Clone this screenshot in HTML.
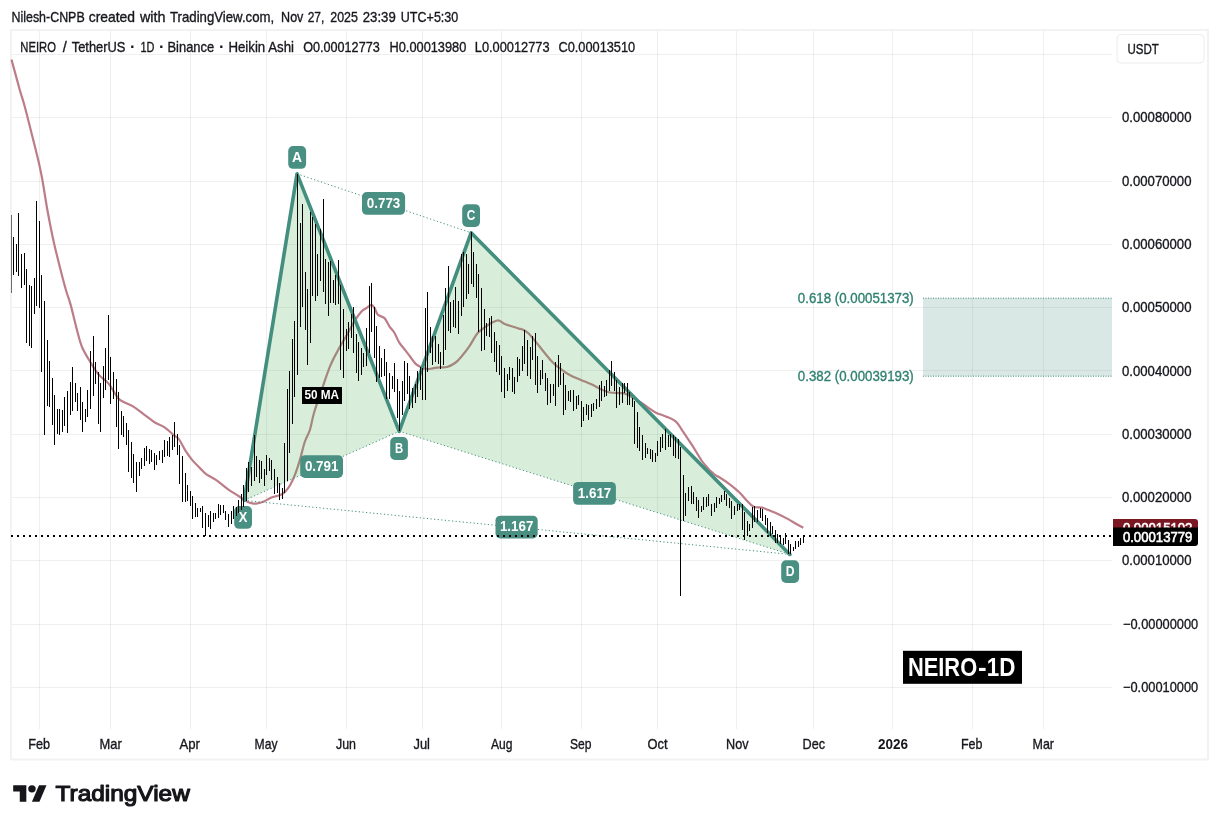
<!DOCTYPE html>
<html><head><meta charset="utf-8"><title>NEIRO chart</title>
<style>html,body{margin:0;padding:0;background:#fff;overflow:hidden}svg{display:block}</style></head>
<body>
<svg width="1219" height="828" viewBox="0 0 1219 828" font-family='"Liberation Sans", Arial, sans-serif'>
<rect width="1219" height="828" fill="#fff"/>
<text x="11.5" y="21.8" font-size="14.5" font-weight="normal" fill="#17181d" stroke="#17181d" stroke-width="0.35" text-anchor="start" textLength="73.2" lengthAdjust="spacingAndGlyphs">Nilesh-CNPB</text>
<text x="88.7" y="21.8" font-size="14.5" font-weight="normal" fill="#17181d" stroke="#17181d" stroke-width="0.35" text-anchor="start" textLength="46.3" lengthAdjust="spacingAndGlyphs">created</text>
<text x="139.9" y="21.8" font-size="14.5" font-weight="normal" fill="#17181d" stroke="#17181d" stroke-width="0.35" text-anchor="start" textLength="25.6" lengthAdjust="spacingAndGlyphs">with</text>
<text x="170.0" y="21.8" font-size="14.5" font-weight="normal" fill="#17181d" stroke="#17181d" stroke-width="0.35" text-anchor="start" textLength="104.2" lengthAdjust="spacingAndGlyphs">TradingView.com,</text>
<text x="281.1" y="21.8" font-size="14.5" font-weight="normal" fill="#17181d" stroke="#17181d" stroke-width="0.35" text-anchor="start" textLength="22.3" lengthAdjust="spacingAndGlyphs">Nov</text>
<text x="307.7" y="21.8" font-size="14.5" font-weight="normal" fill="#17181d" stroke="#17181d" stroke-width="0.35" text-anchor="start" textLength="16.7" lengthAdjust="spacingAndGlyphs">27,</text>
<text x="330.3" y="21.8" font-size="14.5" font-weight="normal" fill="#17181d" stroke="#17181d" stroke-width="0.35" text-anchor="start" textLength="27.6" lengthAdjust="spacingAndGlyphs">2025</text>
<text x="362.8" y="21.8" font-size="14.5" font-weight="normal" fill="#17181d" stroke="#17181d" stroke-width="0.35" text-anchor="start" textLength="32.9" lengthAdjust="spacingAndGlyphs">23:39</text>
<text x="400.8" y="21.8" font-size="14.5" font-weight="normal" fill="#17181d" stroke="#17181d" stroke-width="0.35" text-anchor="start" textLength="57.5" lengthAdjust="spacingAndGlyphs">UTC+5:30</text>
<rect x="11" y="30" width="1197" height="729.5" fill="none" stroke="#f2f2f3" stroke-width="2"/>
<path d="M39.5 31V729 M110.5 31V729 M190.5 31V729 M266.5 31V729 M346.5 31V729 M422.5 31V729 M501.5 31V729 M581.5 31V729 M657.5 31V729 M736.5 31V729 M813.5 31V729 M892.5 31V729 M972.5 31V729 M1043.5 31V729" stroke="#000" stroke-opacity="0.062" stroke-width="1" fill="none" shape-rendering="crispEdges"/>
<path d="M12 54.5H1112 M12 117.5H1112 M12 181.5H1112 M12 244.5H1112 M12 307.5H1112 M12 370.5H1112 M12 434.5H1112 M12 497.5H1112 M12 560.5H1112 M12 624.5H1112 M12 687.5H1112" stroke="#000" stroke-opacity="0.062" stroke-width="1" fill="none" shape-rendering="crispEdges"/>
<path d="M11.5 59.6 C12.9 64.7 17.6 82.0 19.8 90.0 C22.1 98.0 22.8 99.3 25.0 107.5 C27.2 115.7 30.7 129.8 33.0 139.0 C35.3 148.2 37.2 155.7 38.8 162.5 C40.3 169.3 40.9 171.9 42.4 180.0 C43.9 188.1 45.6 200.5 47.6 211.2 C49.6 221.9 51.7 233.0 54.2 244.0 C56.7 255.0 60.4 269.0 62.4 277.0 C64.5 285.0 65.1 287.4 66.5 292.0 C67.9 296.6 68.8 298.1 70.6 304.6 C72.4 311.1 75.3 323.8 77.2 330.9 C79.1 338.0 79.9 342.1 82.1 347.3 C84.3 352.5 87.6 357.6 90.3 362.1 C93.0 366.6 95.5 370.8 98.5 374.4 C101.5 377.9 105.7 380.2 108.4 383.4 C111.1 386.5 113.0 390.6 114.9 393.3 C116.8 396.1 116.9 397.7 119.9 399.9 C122.9 402.1 128.9 403.9 133.0 406.4 C137.1 408.9 140.9 412.2 144.5 414.8 C148.1 417.4 151.1 420.1 154.4 422.2 C157.7 424.2 160.9 424.9 164.2 427.1 C167.5 429.3 171.5 433.2 174.0 435.3 C176.5 437.4 177.1 436.8 179.0 439.4 C180.9 442.0 183.4 447.5 185.6 450.9 C187.8 454.3 189.7 457.0 192.1 459.9 C194.5 462.8 197.6 465.7 200.0 468.1 C202.4 470.5 203.7 472.3 206.4 474.3 C209.1 476.3 212.7 477.6 216.3 480.1 C219.9 482.6 224.0 486.4 227.8 489.1 C231.6 491.8 236.2 494.4 239.3 496.5 C242.5 498.6 244.5 500.2 246.7 501.4 C248.9 502.5 250.6 503.1 252.4 503.4 C254.2 503.7 255.4 503.7 257.3 503.4 C259.2 503.1 261.4 502.4 263.9 501.4 C266.4 500.4 269.4 498.4 272.1 497.3 C274.8 496.2 278.1 495.8 280.3 494.9 C282.5 493.9 283.6 493.2 285.2 491.6 C286.8 490.0 288.5 487.9 290.2 485.0 C291.9 482.1 293.5 478.5 295.1 474.3 C296.7 470.1 298.4 465.1 300.0 459.6 C301.6 454.1 303.2 446.4 304.9 441.5 C306.5 436.6 308.4 434.7 309.9 430.0 C311.4 425.3 311.9 420.2 313.9 413.3 C315.9 406.4 319.4 396.6 322.1 388.7 C324.8 380.8 327.6 372.3 330.3 365.7 C333.0 359.1 335.8 354.4 338.5 349.3 C341.2 344.2 344.0 340.1 346.7 335.3 C349.4 330.5 352.4 324.5 354.9 320.5 C357.4 316.5 359.6 313.6 361.5 311.5 C363.4 309.4 364.8 309.3 366.4 308.2 C368.0 307.1 370.0 304.9 371.4 304.9 C372.8 304.9 373.5 306.5 374.6 308.2 C375.7 309.9 376.2 313.1 377.9 314.8 C379.5 316.5 382.6 316.2 384.5 318.1 C386.4 320.0 387.8 323.9 389.4 326.3 C391.0 328.8 392.8 330.1 394.4 332.8 C396.0 335.5 397.4 339.7 399.3 342.7 C401.2 345.7 403.9 348.4 405.8 350.9 C407.7 353.4 409.2 355.3 410.8 357.5 C412.4 359.7 414.1 362.3 415.7 363.9 C417.3 365.5 418.7 366.1 420.6 367.0 C422.5 367.9 425.0 368.8 427.2 369.0 C429.4 369.2 431.7 368.4 433.8 368.1 C435.9 367.8 437.8 367.5 440.0 367.3 C442.2 367.1 444.5 367.7 447.0 367.0 C449.5 366.3 452.5 364.8 455.0 363.0 C457.5 361.2 459.5 358.8 461.9 356.0 C464.3 353.2 466.7 350.2 469.3 346.4 C471.9 342.6 474.8 336.6 477.5 333.3 C480.2 330.0 483.2 328.5 485.7 326.7 C488.1 324.9 490.0 323.6 492.2 322.6 C494.4 321.6 496.6 320.2 498.8 320.5 C501.0 320.8 502.1 323.0 505.4 324.3 C508.7 325.6 514.7 326.9 518.5 328.4 C522.3 329.9 522.9 327.9 528.4 333.3 C533.9 338.7 545.9 355.0 551.4 361.0 C556.9 367.0 557.9 366.8 561.2 369.3 C564.5 371.8 567.8 374.0 571.1 375.8 C574.4 377.6 577.6 378.5 580.9 379.9 C584.2 381.3 587.5 382.5 590.8 384.0 C594.1 385.5 597.6 387.6 600.6 389.0 C603.6 390.4 605.6 391.5 608.8 392.2 C612.0 392.9 617.1 392.8 620.0 393.1 C622.9 393.4 623.1 392.8 626.4 394.2 C629.7 395.6 636.0 399.4 639.6 401.6 C643.2 403.8 645.1 405.5 647.8 407.3 C650.5 409.1 653.0 411.2 656.0 412.7 C659.0 414.2 662.5 415.0 665.8 416.4 C669.1 417.8 673.0 419.0 675.7 421.3 C678.4 423.6 679.5 426.3 682.2 430.3 C684.9 434.3 688.9 440.2 692.1 445.1 C695.3 450.1 698.5 456.0 701.2 460.0 C703.9 464.0 706.9 467.0 708.5 468.9 C710.1 470.8 709.7 470.3 711.1 471.5 C712.5 472.7 715.3 475.1 716.7 476.0 C718.1 476.9 717.2 475.9 719.3 477.2 C721.4 478.5 725.8 481.3 729.1 483.8 C732.4 486.3 736.0 489.1 739.0 492.0 C742.0 494.9 744.8 498.6 747.2 501.1 C749.7 503.6 751.2 505.7 753.7 506.8 C756.2 507.9 759.5 507.1 762.0 507.6 C764.5 508.2 765.8 509.0 768.5 510.1 C771.2 511.2 775.1 512.7 778.4 514.2 C781.7 515.7 785.2 517.5 788.2 519.1 C791.2 520.7 793.9 522.6 796.4 524.0 C798.9 525.4 802.1 527.1 803.3 527.7" stroke="#bc7d88" stroke-width="2.2" fill="none" stroke-linejoin="round" stroke-linecap="butt"/>
<path d="M244.2 500.4 L297.05 173.8 L399.2 431.3 Z M399.2 431.3 L471.1 232.8 L789.9 554.4 Z" fill="rgba(76,175,80,0.21)"/>
<rect x="923" y="298" width="189" height="78.3" fill="#438e7e" fill-opacity="0.2"/>
<path d="M923 298.2H1112 M923 376.2H1112" stroke="#438e7e" stroke-width="1" stroke-dasharray="1 1.5" fill="none"/>
<path d="M244.2 500.4 L399.2 431.3 M297.05 173.8 L471.1 232.8 M399.2 431.3 L789.9 554.4 M244.2 500.4 L789.9 554.4" stroke="#438e7e" stroke-width="1" stroke-dasharray="1.2 2.4" fill="none"/>
<path d="M244.2 500.4 L297.05 173.8 L399.2 431.3 L471.1 232.8 L789.9 554.4" stroke="#438e7e" stroke-width="3.6" fill="none" stroke-linejoin="round" stroke-linecap="round"/>
<rect x="234.2" y="506" width="17.8" height="22.8" rx="4.8" fill="#458e7f" fill-opacity="0.98"/>
<text x="238.8" y="521.8" font-size="14.5" font-weight="bold" fill="#fff" text-anchor="start" textLength="8.6" lengthAdjust="spacingAndGlyphs">X</text>
<rect x="288.2" y="146.1" width="17.9" height="22.7" rx="4.8" fill="#458e7f" fill-opacity="0.98"/>
<text x="292.1" y="161.8" font-size="14.5" font-weight="bold" fill="#fff" text-anchor="start" textLength="10.0" lengthAdjust="spacingAndGlyphs">A</text>
<rect x="390.2" y="437.1" width="17.7" height="22.9" rx="4.8" fill="#458e7f" fill-opacity="0.98"/>
<text x="394.9" y="452.9" font-size="14.5" font-weight="bold" fill="#fff" text-anchor="start" textLength="8.2" lengthAdjust="spacingAndGlyphs">B</text>
<rect x="462.2" y="204.2" width="17.8" height="22.7" rx="4.8" fill="#458e7f" fill-opacity="0.98"/>
<text x="466.8" y="220.0" font-size="14.5" font-weight="bold" fill="#fff" text-anchor="start" textLength="8.6" lengthAdjust="spacingAndGlyphs">C</text>
<rect x="781.2" y="560.3" width="17.9" height="22.7" rx="4.8" fill="#458e7f" fill-opacity="0.98"/>
<text x="785.8" y="576.0" font-size="14.5" font-weight="bold" fill="#fff" text-anchor="start" textLength="8.8" lengthAdjust="spacingAndGlyphs">D</text>
<rect x="362" y="192" width="43.1" height="22.8" rx="4.8" fill="#458e7f" fill-opacity="0.98"/>
<text x="366.8" y="207.8" font-size="14.5" font-weight="bold" fill="#fff" text-anchor="start" textLength="33.5" lengthAdjust="spacingAndGlyphs">0.773</text>
<rect x="300.2" y="455.2" width="42.8" height="22.7" rx="4.8" fill="#458e7f" fill-opacity="0.98"/>
<text x="304.9" y="470.9" font-size="14.5" font-weight="bold" fill="#fff" text-anchor="start" textLength="33.5" lengthAdjust="spacingAndGlyphs">0.791</text>
<rect x="573.1" y="481.9" width="42.8" height="22.9" rx="4.8" fill="#458e7f" fill-opacity="0.98"/>
<text x="577.8" y="497.8" font-size="14.5" font-weight="bold" fill="#fff" text-anchor="start" textLength="33.5" lengthAdjust="spacingAndGlyphs">1.617</text>
<rect x="495.5" y="515.7" width="42.2" height="22.7" rx="4.8" fill="#458e7f" fill-opacity="0.98"/>
<text x="499.9" y="531.4" font-size="14.5" font-weight="bold" fill="#fff" text-anchor="start" textLength="33.5" lengthAdjust="spacingAndGlyphs">1.167</text>
<path d="M11.5 215.0V292.8" stroke="#000" stroke-opacity="0.55" stroke-width="1" fill="none" shape-rendering="crispEdges"/>
<path d="M13.5 237.0V274.7 M16.5 244.0V271.6 M18.5 212.8V275.7 M21.5 254.2V287.9 M24.5 253.1V284.6 M26.5 269.0V342.7 M29.5 285.1V345.7 M31.5 286.2V347.7 M34.5 278.0V313.8 M36.5 201.0V305.6 M39.5 221.1V307.6 M41.5 274.9V371.6 M44.5 301.0V434.8 M47.5 340.3V405.7 M49.5 361.0V407.4 M52.5 378.2V425.0 M54.5 394.9V444.7 M57.5 409.2V434.0 M59.5 409.2V434.8 M62.5 410.2V431.7 M64.5 397.1V425.8 M67.5 391.2V432.8 M70.5 382.1V414.8 M72.5 367.2V410.9 M75.5 383.1V401.6 M77.5 393.3V410.9 M80.5 387.1V419.7 M82.5 402.0V431.7 M85.5 409.2V421.8 M87.5 390.0V416.7 M90.5 351.1V408.9 M93.5 336.2V395.8 M95.5 362.1V384.3 M98.5 371.5V423.8 M100.5 383.1V431.7 M103.5 366.0V397.7 M105.5 348.0V389.5 M108.5 315.0V379.7 M110.5 357.2V403.6 M113.5 372.1V398.6 M116.5 379.0V426.6 M118.5 392.2V448.8 M121.5 411.0V435.0 M123.5 415.9V436.9 M126.5 423.3V444.7 M128.5 430.0V471.8 M131.5 442.2V477.7 M133.5 454.2V482.6 M136.5 462.1V491.6 M139.5 462.1V475.9 M141.5 458.0V468.6 M144.5 447.9V465.7 M146.5 446.3V461.2 M149.5 448.9V463.7 M151.5 450.1V461.9 M154.5 453.0V469.8 M156.5 455.3V464.9 M159.5 451.4V459.6 M162.5 450.1V462.7 M164.5 439.9V456.7 M167.5 441.1V455.8 M169.5 437.3V457.0 M172.5 435.3V449.6 M174.5 422.2V446.8 M177.5 434.2V454.7 M179.5 445.2V483.7 M182.5 456.2V501.8 M185.5 473.1V501.5 M187.5 485.1V500.5 M190.5 491.0V505.6 M192.5 496.1V518.7 M195.5 503.1V516.9 M197.5 508.0V516.6 M200.5 508.0V511.8 M202.5 505.9V528.0 M205.5 513.3V535.9 M208.5 514.6V526.9 M210.5 510.8V528.5 M213.5 512.9V521.6 M215.5 513.4V518.7 M218.5 504.2V517.8 M220.5 505.0V514.9 M223.5 505.0V513.4 M225.5 510.5V519.8 M228.5 514.2V526.6 M231.5 511.3V523.6 M233.5 505.9V518.7 M236.5 507.2V516.2 M238.5 500.1V512.9 M241.5 494.0V510.0 M243.5 485.0V507.2 M246.5 468.1V500.6 M248.5 462.0V492.4 M251.5 466.9V485.8 M254.5 434.9V480.6 M256.5 455.8V476.5 M259.5 460.4V482.5 M261.5 461.2V479.3 M264.5 469.4V486.3 M266.5 455.0V475.2 M269.5 457.9V471.1 M271.5 460.4V480.4 M274.5 468.9V493.7 M277.5 477.1V493.2 M279.5 482.9V499.8 M282.5 487.8V499.0 M284.5 443.1V492.9 M287.5 389.2V480.9 M289.5 370.9V452.7 M292.5 339.1V424.0 M294.5 321.0V396.9 M297.5 174.1V375.0 M300.5 222.9V326.8 M302.5 204.2V306.6 M305.5 271.8V330.0 M307.5 289.0V364.9 M310.5 211.9V342.7 M312.5 216.8V296.4 M315.5 224.2V300.8 M317.5 254.1V295.6 M320.5 229.1V280.8 M323.5 199.2V292.3 M325.5 259.2V303.8 M328.5 262.0V315.9 M330.5 261.1V303.0 M333.5 280.0V302.7 M335.5 275.1V304.6 M338.5 260.0V303.8 M340.5 284.9V369.8 M343.5 309.0V377.7 M346.5 329.2V350.9 M348.5 322.2V349.3 M351.5 314.0V337.8 M353.5 306.9V352.9 M356.5 334.0V372.7 M358.5 341.9V381.0 M361.5 347.6V374.7 M363.5 352.5V366.5 M366.5 327.9V365.7 M369.5 286.1V352.5 M371.5 283.0V332.3 M374.5 307.4V358.3 M376.5 325.8V382.1 M379.5 346.3V377.5 M381.5 357.8V377.2 M384.5 348.8V376.4 M386.5 361.6V399.0 M389.5 373.1V399.3 M392.5 375.5V388.7 M394.5 362.9V392.0 M397.5 378.8V418.2 M399.5 391.1V431.4 M402.5 380.5V414.9 M404.5 361.1V401.0 M407.5 363.2V393.6 M409.5 375.5V409.2 M412.5 388.2V407.6 M415.5 383.7V402.6 M417.5 370.9V396.9 M420.5 366.5V389.8 M422.5 368.1V400.0 M425.5 307.8V400.0 M427.5 291.9V371.8 M430.5 327.4V352.5 M432.5 335.9V364.7 M435.5 335.8V361.6 M438.5 344.0V364.0 M440.5 351.9V368.8 M443.5 314.9V364.7 M445.5 287.8V349.9 M448.5 266.0V330.8 M450.5 302.1V332.8 M453.5 300.1V326.7 M455.5 287.0V328.4 M458.5 301.0V333.6 M461.5 254.2V315.7 M463.5 252.0V306.7 M466.5 254.2V298.8 M468.5 263.6V294.0 M471.5 232.3V283.7 M473.5 252.0V287.3 M476.5 264.0V297.5 M478.5 274.2V331.8 M481.5 288.1V350.9 M484.5 309.2V349.9 M486.5 323.0V335.9 M489.5 318.2V336.6 M491.5 315.7V352.8 M494.5 332.0V361.5 M496.5 340.9V371.7 M499.5 345.1V374.5 M501.5 356.1V391.8 M504.5 368.1V397.7 M507.5 374.2V390.6 M509.5 366.8V379.9 M512.5 367.9V392.2 M514.5 377.1V393.6 M517.5 356.9V381.6 M519.5 359.1V375.8 M522.5 345.9V370.6 M524.5 330.0V364.3 M527.5 339.9V375.5 M530.5 347.1V378.6 M532.5 335.9V360.2 M535.5 333.0V384.5 M537.5 356.1V392.6 M540.5 370.1V385.4 M542.5 359.9V378.6 M545.5 372.9V390.6 M547.5 377.8V404.9 M550.5 384.0V402.6 M553.5 384.0V395.9 M555.5 362.2V405.7 M558.5 355.0V386.8 M560.5 363.0V384.5 M563.5 373.0V414.7 M565.5 385.2V410.3 M568.5 390.6V400.8 M570.5 390.1V401.6 M573.5 390.1V410.6 M576.5 396.4V408.7 M578.5 395.2V405.1 M581.5 400.8V426.7 M583.5 407.0V421.3 M586.5 404.1V414.7 M588.5 404.9V419.8 M591.5 403.7V416.9 M593.5 403.3V410.8 M596.5 399.3V408.7 M599.5 385.2V406.7 M601.5 381.1V400.8 M604.5 385.7V396.8 M606.5 380.3V395.9 M609.5 370.1V391.4 M611.5 361.0V386.0 M614.5 372.0V390.6 M616.5 379.9V407.7 M619.5 387.0V404.9 M622.5 383.0V403.2 M624.5 383.0V393.4 M627.5 383.0V404.5 M629.5 392.2V404.5 M632.5 397.5V406.8 M634.5 401.2V443.9 M637.5 411.8V447.9 M639.5 427.0V450.8 M642.5 434.7V459.9 M645.5 443.0V457.9 M647.5 447.9V453.8 M650.5 448.9V458.6 M652.5 449.7V461.8 M655.5 453.0V461.5 M657.5 441.0V455.8 M660.5 436.9V451.7 M662.5 433.9V447.6 M665.5 429.2V450.0 M668.5 435.2V446.7 M670.5 433.9V447.1 M673.5 435.2V455.8 M675.5 436.9V457.7 M678.5 439.3V458.7 M680.5 446.7V595.9 M683.5 475.0V520.8 M685.5 493.3V516.3 M688.5 487.1V500.6 M691.5 485.9V504.3 M693.5 492.0V503.5 M696.5 496.5V510.9 M698.5 500.2V517.8 M701.5 506.0V512.2 M703.5 496.5V510.1 M706.5 497.4V507.1 M708.5 494.2V506.3 M711.5 503.5V515.5 M714.5 503.0V511.7 M716.5 497.4V507.6 M719.5 498.1V504.3 M721.5 494.5V502.4 M724.5 490.9V500.2 M726.5 493.7V505.6 M729.5 498.1V508.4 M731.5 501.4V519.4 M734.5 506.0V514.7 M737.5 503.5V510.6 M739.5 504.3V510.1 M742.5 504.0V529.8 M744.5 512.2V539.6 M747.5 521.1V535.5 M749.5 523.7V531.4 M752.5 507.1V528.1 M754.5 506.3V522.4 M757.5 510.1V521.6 M760.5 507.9V517.8 M762.5 508.8V521.2 M765.5 515.0V524.5 M767.5 518.3V532.7 M770.5 522.1V535.9 M772.5 525.7V534.2 M775.5 529.5V542.6 M777.5 533.9V542.9 M780.5 535.5V543.7 M783.5 537.7V545.1 M785.5 533.1V543.7 M788.5 540.1V554.4 M790.5 544.2V553.6 M793.5 547.0V550.6 M795.5 541.0V548.7 M798.5 540.5V546.5 M800.5 538.0V544.6 M803.5 535.2V543.4" stroke="#000" stroke-width="1" fill="none" shape-rendering="crispEdges"/>
<path d="M11 536H1113" stroke="#000" stroke-width="2" stroke-dasharray="2 4" shape-rendering="crispEdges" fill="none"/>
<rect x="302" y="387" width="40" height="17" fill="#000"/>
<text x="304.4" y="399.0" font-size="12.5" font-weight="bold" fill="#fff" text-anchor="start" textLength="34.7" lengthAdjust="spacingAndGlyphs">50 MA</text>
<rect x="903" y="650.8" width="119" height="33" fill="#000"/>
<text x="907.9" y="676.0" font-size="26.7" font-weight="bold" fill="#fff" text-anchor="start" textLength="69.3" lengthAdjust="spacingAndGlyphs">NEIRO</text>
<text x="978.0" y="676.0" font-size="26.7" font-weight="bold" fill="#fff" text-anchor="start" textLength="8.6" lengthAdjust="spacingAndGlyphs">-</text>
<text x="986.8" y="676.0" font-size="26.7" font-weight="bold" fill="#fff" text-anchor="start" textLength="28.6" lengthAdjust="spacingAndGlyphs">1D</text>
<text x="797.8" y="302.8" font-size="14.5" font-weight="normal" fill="#2f8170" stroke="#2f8170" stroke-width="0.35" text-anchor="start" textLength="116.0" lengthAdjust="spacingAndGlyphs">0.618 (0.00051373)</text>
<text x="797.8" y="380.9" font-size="14.5" font-weight="normal" fill="#2f8170" stroke="#2f8170" stroke-width="0.35" text-anchor="start" textLength="116.0" lengthAdjust="spacingAndGlyphs">0.382 (0.00039193)</text>
<text x="20.3" y="51.6" font-size="14.5" font-weight="normal" fill="#17181d" stroke="#17181d" stroke-width="0.35" text-anchor="start" textLength="35.6" lengthAdjust="spacingAndGlyphs">NEIRO</text>
<text x="62.7" y="51.6" font-size="14.5" font-weight="normal" fill="#17181d" stroke="#17181d" stroke-width="0.35" text-anchor="start">/</text>
<text x="71.7" y="51.6" font-size="14.5" font-weight="normal" fill="#17181d" stroke="#17181d" stroke-width="0.35" text-anchor="start" textLength="53.8" lengthAdjust="spacingAndGlyphs">TetherUS</text>
<text x="130.1" y="52.2" font-size="16.5" font-weight="bold" fill="#17181d" text-anchor="start">·</text>
<text x="140.4" y="51.6" font-size="14.5" font-weight="normal" fill="#17181d" stroke="#17181d" stroke-width="0.35" text-anchor="start" textLength="14.0" lengthAdjust="spacingAndGlyphs">1D</text>
<text x="159.1" y="52.2" font-size="16.5" font-weight="bold" fill="#17181d" text-anchor="start">·</text>
<text x="167.5" y="51.6" font-size="14.5" font-weight="normal" fill="#17181d" stroke="#17181d" stroke-width="0.35" text-anchor="start" textLength="46.7" lengthAdjust="spacingAndGlyphs">Binance</text>
<text x="218.9" y="52.2" font-size="16.5" font-weight="bold" fill="#17181d" text-anchor="start">·</text>
<text x="228.4" y="51.6" font-size="14.5" font-weight="normal" fill="#17181d" stroke="#17181d" stroke-width="0.35" text-anchor="start" textLength="65.6" lengthAdjust="spacingAndGlyphs">Heikin Ashi</text>
<text x="303.2" y="51.6" font-size="14.5" font-weight="normal" fill="#17181d" stroke="#17181d" stroke-width="0.35" text-anchor="start" textLength="76.5" lengthAdjust="spacingAndGlyphs">O0.00012773</text>
<text x="389.5" y="51.6" font-size="14.5" font-weight="normal" fill="#17181d" stroke="#17181d" stroke-width="0.35" text-anchor="start" textLength="76.8" lengthAdjust="spacingAndGlyphs">H0.00013980</text>
<text x="474.8" y="51.6" font-size="14.5" font-weight="normal" fill="#17181d" stroke="#17181d" stroke-width="0.35" text-anchor="start" textLength="74.8" lengthAdjust="spacingAndGlyphs">L0.00012773</text>
<text x="558.4" y="51.6" font-size="14.5" font-weight="normal" fill="#17181d" stroke="#17181d" stroke-width="0.35" text-anchor="start" textLength="76.8" lengthAdjust="spacingAndGlyphs">C0.00013510</text>
<rect x="1117" y="34.5" width="87" height="28.5" rx="4" fill="#fff" stroke="#ececef" stroke-width="1"/>
<text x="1127.5" y="53.9" font-size="14.5" font-weight="normal" fill="#17181d" stroke="#17181d" stroke-width="0.35" text-anchor="start" textLength="31.4" lengthAdjust="spacingAndGlyphs">USDT</text>
<text x="1122.0" y="122.3" font-size="14.5" font-weight="normal" fill="#17181d" stroke="#17181d" stroke-width="0.35" text-anchor="start" textLength="69.5" lengthAdjust="spacingAndGlyphs">0.00080000</text>
<text x="1122.0" y="186.3" font-size="14.5" font-weight="normal" fill="#17181d" stroke="#17181d" stroke-width="0.35" text-anchor="start" textLength="69.5" lengthAdjust="spacingAndGlyphs">0.00070000</text>
<text x="1122.0" y="249.3" font-size="14.5" font-weight="normal" fill="#17181d" stroke="#17181d" stroke-width="0.35" text-anchor="start" textLength="69.5" lengthAdjust="spacingAndGlyphs">0.00060000</text>
<text x="1122.0" y="312.3" font-size="14.5" font-weight="normal" fill="#17181d" stroke="#17181d" stroke-width="0.35" text-anchor="start" textLength="69.5" lengthAdjust="spacingAndGlyphs">0.00050000</text>
<text x="1122.0" y="376.3" font-size="14.5" font-weight="normal" fill="#17181d" stroke="#17181d" stroke-width="0.35" text-anchor="start" textLength="69.5" lengthAdjust="spacingAndGlyphs">0.00040000</text>
<text x="1122.0" y="439.3" font-size="14.5" font-weight="normal" fill="#17181d" stroke="#17181d" stroke-width="0.35" text-anchor="start" textLength="69.5" lengthAdjust="spacingAndGlyphs">0.00030000</text>
<text x="1122.0" y="502.3" font-size="14.5" font-weight="normal" fill="#17181d" stroke="#17181d" stroke-width="0.35" text-anchor="start" textLength="69.5" lengthAdjust="spacingAndGlyphs">0.00020000</text>
<text x="1122.0" y="565.3" font-size="14.5" font-weight="normal" fill="#17181d" stroke="#17181d" stroke-width="0.35" text-anchor="start" textLength="69.5" lengthAdjust="spacingAndGlyphs">0.00010000</text>
<text x="1123.0" y="629.2" font-size="14.5" font-weight="normal" fill="#17181d" stroke="#17181d" stroke-width="0.35" text-anchor="start" textLength="75.2" lengthAdjust="spacingAndGlyphs">−0.00000000</text>
<text x="1123.0" y="692.2" font-size="14.5" font-weight="normal" fill="#17181d" stroke="#17181d" stroke-width="0.35" text-anchor="start" textLength="75.2" lengthAdjust="spacingAndGlyphs">−0.00010000</text>
<path d="M1113 519H1195a3 3 0 0 1 3 3V537H1113Z" fill="#7b1722"/>
<text x="1122.9" y="533.4" font-size="14.5" font-weight="normal" fill="#fff" text-anchor="start" textLength="69.5" lengthAdjust="spacingAndGlyphs" stroke="#fff" stroke-width="0.6">0.00015102</text>
<path d="M1113 527.4H1198V543a3 3 0 0 1 -3 3H1113Z" fill="#000"/>
<text x="1122.9" y="542.2" font-size="14.5" font-weight="normal" fill="#fff" text-anchor="start" textLength="69.5" lengthAdjust="spacingAndGlyphs" stroke="#fff" stroke-width="0.6">0.00013779</text>
<text x="28.2" y="749.4" font-size="14.5" font-weight="normal" fill="#17181d" stroke="#17181d" stroke-width="0.35" text-anchor="start" textLength="21.8" lengthAdjust="spacingAndGlyphs">Feb</text>
<text x="99.5" y="749.4" font-size="14.5" font-weight="normal" fill="#17181d" stroke="#17181d" stroke-width="0.35" text-anchor="start" textLength="22.2" lengthAdjust="spacingAndGlyphs">Mar</text>
<text x="179.5" y="749.4" font-size="14.5" font-weight="normal" fill="#17181d" stroke="#17181d" stroke-width="0.35" text-anchor="start" textLength="20.5" lengthAdjust="spacingAndGlyphs">Apr</text>
<text x="254.5" y="749.4" font-size="14.5" font-weight="normal" fill="#17181d" stroke="#17181d" stroke-width="0.35" text-anchor="start" textLength="23.0" lengthAdjust="spacingAndGlyphs">May</text>
<text x="336.0" y="749.4" font-size="14.5" font-weight="normal" fill="#17181d" stroke="#17181d" stroke-width="0.35" text-anchor="start" textLength="20.0" lengthAdjust="spacingAndGlyphs">Jun</text>
<text x="413.5" y="749.4" font-size="14.5" font-weight="normal" fill="#17181d" stroke="#17181d" stroke-width="0.35" text-anchor="start" textLength="16.5" lengthAdjust="spacingAndGlyphs">Jul</text>
<text x="491.0" y="749.4" font-size="14.5" font-weight="normal" fill="#17181d" stroke="#17181d" stroke-width="0.35" text-anchor="start" textLength="21.5" lengthAdjust="spacingAndGlyphs">Aug</text>
<text x="570.0" y="749.4" font-size="14.5" font-weight="normal" fill="#17181d" stroke="#17181d" stroke-width="0.35" text-anchor="start" textLength="21.5" lengthAdjust="spacingAndGlyphs">Sep</text>
<text x="647.5" y="749.4" font-size="14.5" font-weight="normal" fill="#17181d" stroke="#17181d" stroke-width="0.35" text-anchor="start" textLength="20.0" lengthAdjust="spacingAndGlyphs">Oct</text>
<text x="726.0" y="749.4" font-size="14.5" font-weight="normal" fill="#17181d" stroke="#17181d" stroke-width="0.35" text-anchor="start" textLength="22.5" lengthAdjust="spacingAndGlyphs">Nov</text>
<text x="802.5" y="749.4" font-size="14.5" font-weight="normal" fill="#17181d" stroke="#17181d" stroke-width="0.35" text-anchor="start" textLength="22.5" lengthAdjust="spacingAndGlyphs">Dec</text>
<text x="961.0" y="749.4" font-size="14.5" font-weight="normal" fill="#17181d" stroke="#17181d" stroke-width="0.35" text-anchor="start" textLength="21.5" lengthAdjust="spacingAndGlyphs">Feb</text>
<text x="1032.5" y="749.4" font-size="14.5" font-weight="normal" fill="#17181d" stroke="#17181d" stroke-width="0.35" text-anchor="start" textLength="21.5" lengthAdjust="spacingAndGlyphs">Mar</text>
<text x="878.0" y="749.4" font-size="14.5" font-weight="bold" fill="#17181d" text-anchor="start" textLength="30.0" lengthAdjust="spacingAndGlyphs">2026</text>
<g transform="translate(13.2,781.55) scale(0.938,0.915)" fill="#16161a"><path d="M14 22H7V11H0V4h14v18z"/><circle cx="20" cy="8" r="4"/><path d="M28 22h-8l7.5-18h8L28 22z"/></g>
<text x="55.5" y="801.1" font-size="22.6" font-weight="normal" fill="#16161a" text-anchor="start" textLength="134.3" lengthAdjust="spacingAndGlyphs" stroke="#16161a" stroke-width="1.2" stroke-linejoin="round">TradingView</text>
</svg>
</body></html>
